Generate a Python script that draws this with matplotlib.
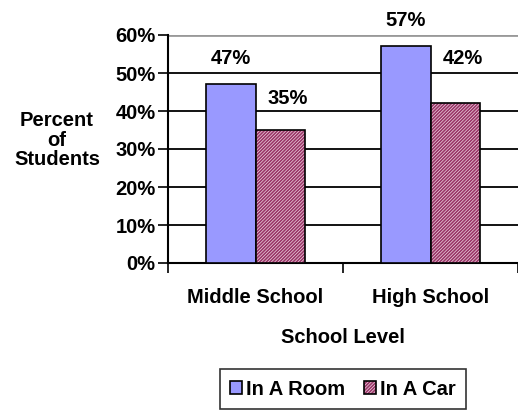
import matplotlib
matplotlib.use("Agg")
import matplotlib.pyplot as plt
from matplotlib.patches import Patch
from matplotlib.legend_handler import HandlerTuple
import numpy as np

# data
categories = ["Middle School", "High School"]
in_room = [47, 57]
in_car = [35, 42]
series_names = ["In A Room", "In A Car"]
y_ticks = [0, 10, 20, 30, 40, 50, 60]

# label offsets above bar tops (pixels), Excel put them a bit oddly
room_offsets = [26, 26]
car_offsets = [32, 45]

plt.rcParams['font.family'] = ['Liberation Sans', 'DejaVu Sans']
plt.rcParams['font.weight'] = 'bold'
plt.rcParams['hatch.linewidth'] = 0.5

BLUE = '#9999ff'
PLUM = '#993366'
FS = 14.5

fig = plt.figure(figsize=(5.18, 4.11), dpi=100)
ax = fig.add_axes([168 / 518, 1 - 263 / 411, 1 - 168 / 518, (263 - 35) / 411])

x = np.arange(len(categories))
w = 0.2857

ax.bar(x - w / 2, in_room, w, color=BLUE, edgecolor='black', linewidth=1.2, zorder=3)
# hatched fill first, then a black outline over it
ax.bar(x + w / 2, in_car, w, color=PLUM, edgecolor='#f0d8e4', hatch='//////////',
       linewidth=0, zorder=3)
ax.bar(x + w / 2, in_car, w, color='none', edgecolor='black', linewidth=1.2, zorder=4)

for i in range(len(categories)):
    ax.annotate(f"{in_room[i]}%", (x[i] - w / 2, in_room[i]), xytext=(0, room_offsets[i]),
                textcoords='offset pixels', ha='center', va='center', fontsize=FS,
                fontweight='bold', annotation_clip=False)
    ax.annotate(f"{in_car[i]}%", (x[i] + w / 2 + 0.04, in_car[i]), xytext=(0, car_offsets[i]),
                textcoords='offset pixels', ha='center', va='center', fontsize=FS,
                fontweight='bold', annotation_clip=False)

ax.set_xlim(-0.5, 1.5)
ax.set_ylim(0, 60)
ax.set_yticks(y_ticks)
ax.set_yticklabels([f"{t}%" for t in y_ticks], fontsize=FS, fontweight='bold')
ax.set_xticks([-0.5, 0.5, 1.5])
ax.set_xticklabels([])
ax.set_xticks(x, minor=True)
ax.set_xticklabels(categories, minor=True, fontsize=FS, fontweight='bold')
ax.tick_params(axis='x', which='minor', length=0, pad=18)
ax.tick_params(axis='x', which='major', length=7, width=1.2, direction='out')
ax.tick_params(axis='y', length=7, width=1.2, direction='out', pad=2)

for t in y_ticks[1:-1]:
    ax.axhline(t, color='black', linewidth=1.3, zorder=1)
ax.axhline(60, color='#999999', linewidth=2, zorder=1)

for side in ['top', 'right']:
    ax.spines[side].set_visible(False)
ax.spines['left'].set_linewidth(1.5)
ax.spines['bottom'].set_linewidth(1.5)

ax.set_xlabel("School Level", fontsize=FS, fontweight='bold', labelpad=15)
fig.text(57 / 518, 1 - 140 / 411, "Percent\nof\nStudents", ha='center', va='center',
         fontsize=FS, fontweight='bold', linespacing=1.05)

room_h = Patch(facecolor=BLUE, edgecolor='black', linewidth=1.2)
car_fill = Patch(facecolor=PLUM, edgecolor='#f0d8e4', hatch='//////////', linewidth=0)
car_edge = Patch(facecolor='none', edgecolor='black', linewidth=1.2)
leg = fig.legend([room_h, (car_fill, car_edge)], series_names,
                 handler_map={tuple: HandlerTuple(ndivide=1)},
                 loc='center', bbox_to_anchor=(343 / 518, 1 - 389 / 411), ncol=2,
                 fontsize=FS, frameon=True, fancybox=False, edgecolor='black',
                 handlelength=0.6, handleheight=0.6, handletextpad=0.2,
                 columnspacing=0.9, borderpad=0.5)
leg.get_frame().set_linewidth(1.2)

fig.savefig("out.png", dpi=100)
